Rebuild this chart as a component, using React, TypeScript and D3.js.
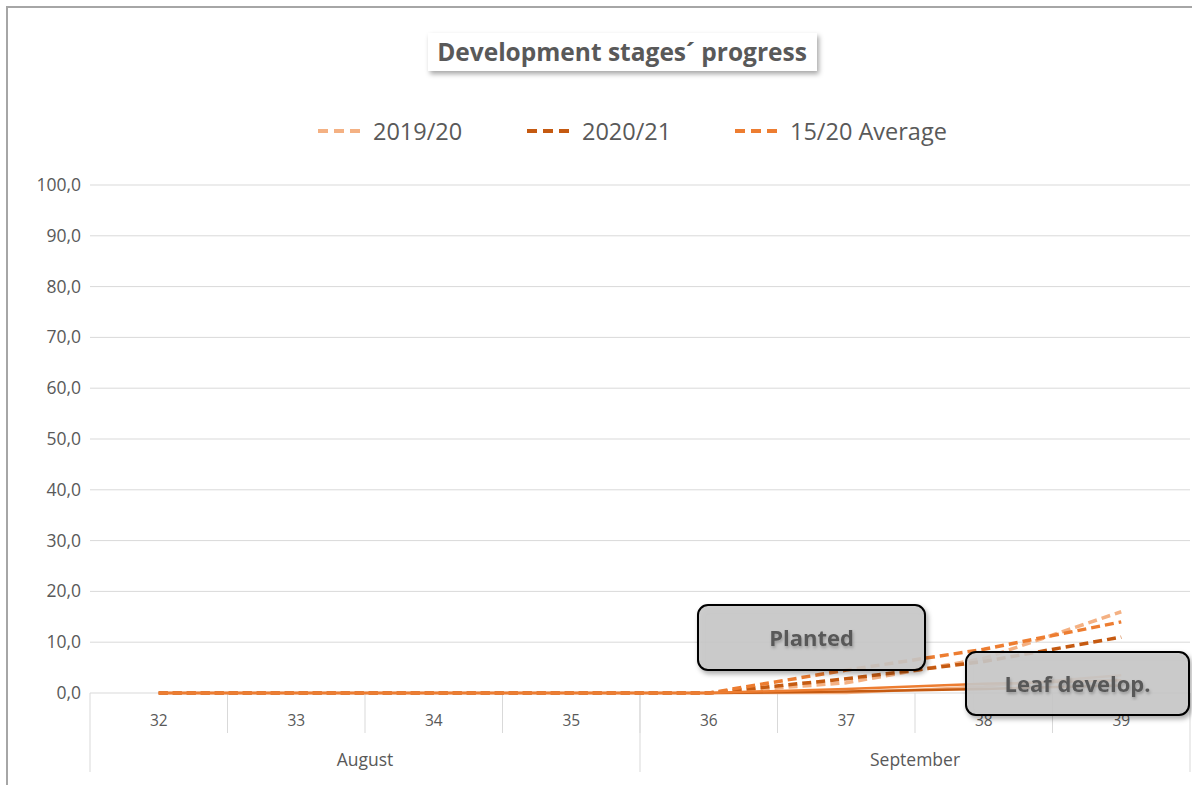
import React, { useEffect, useRef } from 'react';
import * as d3 from 'd3';

const weeks = ['32', '33', '34', '35', '36', '37', '38', '39'];
const months = [
  { name: 'August', from: '32', to: '35' },
  { name: 'September', from: '36', to: '39' },
];
const yTicks = [0, 10, 20, 30, 40, 50, 60, 70, 80, 90, 100];

// Planted (dashed)
const planted1920 = [0, 0, 0, 0, 0, 2, 6.8, 16];
const planted2021 = [0, 0, 0, 0, 0, 2.8, 6.2, 11];
const plantedAvg = [0, 0, 0, 0, 0, 4.5, 8.6, 14];
// Leaf development (solid)
const leaf1920 = [0, 0, 0, 0, 0, 0, 1.3, 3.5];
const leaf2021 = [0, 0, 0, 0, 0, 0.3, 0.8, 1.5];
const leafAvg = [0, 0, 0, 0, 0, 0.8, 1.8, 2.5];

const legendNames = ['2019/20', '2020/21', '15/20 Average'];
const colors = ['#F4B183', '#C55A11', '#ED7D31'];

const App: React.FC = () => {
  const svgRef = useRef(null);

  useEffect(() => {
    const totalWidth = 1192;
    const totalHeight = 785;
    const left = 90, right = 1190, top = 185, bottom = 693;
    const font = '"Open Sans", sans-serif';
    const textColor = '#595959';

    const svg = d3.select(svgRef.current)
      .attr('width', totalWidth)
      .attr('height', totalHeight);
    svg.selectAll('*').remove();

    const defs = svg.append('defs');
    const f = defs.append('filter').attr('id', 'shadow')
      .attr('x', '-10%').attr('y', '-20%').attr('width', '130%').attr('height', '160%');
    f.append('feDropShadow').attr('dx', 2).attr('dy', 3).attr('stdDeviation', 2.5)
      .attr('flood-color', '#000').attr('flood-opacity', 0.35);
    const ft = defs.append('filter').attr('id', 'tshadow');
    ft.append('feDropShadow').attr('dx', 1).attr('dy', 2).attr('stdDeviation', 1.5)
      .attr('flood-color', '#000').attr('flood-opacity', 0.25);

    svg.append('rect').attr('x', 0).attr('y', 0).attr('width', totalWidth).attr('height', totalHeight).attr('fill', '#fff');
    svg.append('rect').attr('x', 7).attr('y', 7).attr('width', 1200).attr('height', 800)
      .attr('fill', 'none').attr('stroke', '#a6a6a6').attr('stroke-width', 2);

    const x = d3.scaleBand().domain(weeks).range([left, right]).padding(0);
    const cx = (w: string) => (x(w) as number) + x.bandwidth() / 2;
    const y = d3.scaleLinear().domain([0, 100]).range([bottom, top]);

    // gridlines
    svg.append('g').selectAll('line').data(yTicks).enter().append('line')
      .attr('x1', left).attr('x2', right)
      .attr('y1', d => y(d)).attr('y2', d => y(d))
      .attr('stroke', '#d9d9d9').attr('stroke-width', 1);

    // y labels
    svg.append('g').selectAll('text').data(yTicks).enter().append('text')
      .attr('x', 81).attr('y', d => y(d) + 6)
      .attr('text-anchor', 'end')
      .attr('font-family', font).attr('font-size', 17.5).attr('fill', textColor)
      .text(d => d3.format('.1f')(d).replace('.', ','));

    // x axis separators
    const gx = svg.append('g');
    weeks.forEach((w, i) => {
      if (i === 0) return;
      gx.append('line').attr('x1', x(w) as number).attr('x2', x(w) as number)
        .attr('y1', bottom).attr('y2', 733).attr('stroke', '#d9d9d9');
    });
    const longTicks = [left, x('36') as number, right];
    longTicks.forEach(v => {
      gx.append('line').attr('x1', v).attr('x2', v).attr('y1', bottom).attr('y2', 772).attr('stroke', '#d9d9d9');
    });
    gx.selectAll('text.wk').data(weeks).enter().append('text')
      .attr('class', 'wk')
      .attr('x', d => cx(d)).attr('y', 726)
      .attr('text-anchor', 'middle')
      .attr('font-family', font).attr('font-size', 15.5).attr('fill', textColor)
      .text(d => d);
    months.forEach(m => {
      const mx = ((x(m.from) as number) + (x(m.to) as number) + x.bandwidth()) / 2;
      gx.append('text').attr('x', mx).attr('y', 766).attr('text-anchor', 'middle')
        .attr('font-family', font).attr('font-size', 17.5).attr('fill', textColor).text(m.name);
    });

    const line = d3.line<number>().x((_, i) => cx(weeks[i])).y(d => y(d));

    const dashed = [planted1920, planted2021, plantedAvg];
    const solid = [leaf1920, leaf2021, leafAvg];
    dashed.forEach((s, i) => {
      svg.append('path').datum(s).attr('d', line).attr('fill', 'none')
        .attr('stroke', colors[i]).attr('stroke-width', 3.5)
        .attr('stroke-dasharray', '9,5');
    });
    solid.forEach((s, i) => {
      svg.append('path').datum(s).attr('d', line).attr('fill', 'none')
        .attr('stroke', colors[i]).attr('stroke-width', 2.5);
    });

    // callouts
    const callout = (x0: number, y0: number, w: number, h: number, label: string) => {
      const g = svg.append('g');
      g.append('rect').attr('x', x0).attr('y', y0).attr('width', w).attr('height', h)
        .attr('rx', 10).attr('fill', 'rgba(200,200,200,0.88)')
        .attr('stroke', '#000').attr('stroke-width', 2).attr('filter', 'url(#shadow)');
      g.append('text').attr('x', x0 + w / 2).attr('y', y0 + h / 2 + 8)
        .attr('text-anchor', 'middle').attr('font-family', font).attr('font-weight', 'bold')
        .attr('font-size', 22).attr('fill', textColor).attr('filter', 'url(#tshadow)').text(label);
    };
    callout(698, 605, 227, 65, 'Planted');
    callout(966, 652, 223, 63, 'Leaf develop.');

    // title
    svg.append('rect').attr('x', 428).attr('y', 33).attr('width', 389).attr('height', 38)
      .attr('fill', '#fff').attr('filter', 'url(#shadow)');
    svg.append('text').attr('x', 622).attr('y', 61).attr('text-anchor', 'middle')
      .attr('font-family', font).attr('font-weight', 'bold').attr('font-size', 24.5)
      .attr('fill', textColor).text('Development stages´ progress');

    // legend
    const legendX = [318, 527, 735];
    legendNames.forEach((n, i) => {
      svg.append('line').attr('x1', legendX[i]).attr('x2', legendX[i] + 44)
        .attr('y1', 131).attr('y2', 131).attr('stroke', colors[i]).attr('stroke-width', 4)
        .attr('stroke-dasharray', '10,6');
      svg.append('text').attr('x', legendX[i] + 55).attr('y', 140)
        .attr('font-family', font).attr('font-size', 23.5).attr('fill', textColor).text(n);
    });
  }, []);

  return <svg ref={svgRef} style={{ position: 'absolute', left: 0, top: 0, display: 'block' }}></svg>;
};

export default App;
